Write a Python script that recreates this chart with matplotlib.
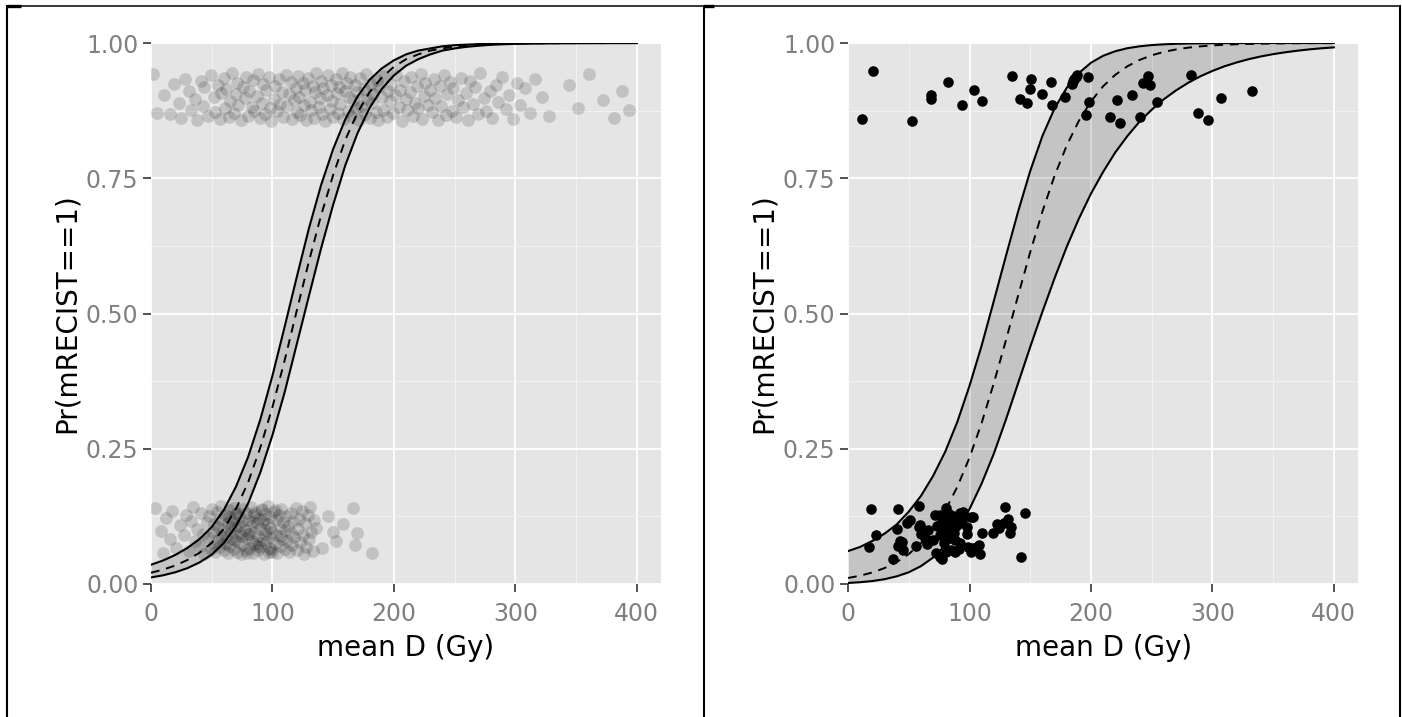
import matplotlib.pyplot as plt
from matplotlib.lines import Line2D

# dose grid for the fitted curves (Gy)
dose_grid = list(range(0, 401, 10))

# left panel: fitted probability and its band
left_fit = [0.0208, 0.0266, 0.0342, 0.0444, 0.0579, 0.0759, 0.102, 0.139, 0.188, 0.252,
            0.327, 0.413, 0.505, 0.596, 0.681, 0.756, 0.821, 0.871, 0.909, 0.936,
            0.956, 0.970, 0.979, 0.986, 0.990, 0.9935, 0.9956, 0.9970, 0.9980, 0.9986,
            0.9991, 0.9994, 0.9996, 0.9997, 0.9998, 0.9999, 0.9999, 0.9999, 1.0, 1.0, 1.0]
left_upper = [0.0356, 0.0435, 0.0537, 0.0666, 0.0832, 0.1053, 0.137, 0.180, 0.235, 0.304,
              0.385, 0.475, 0.567, 0.657, 0.737, 0.804, 0.859, 0.901, 0.932, 0.953,
              0.968, 0.979, 0.986, 0.990, 0.994, 0.996, 0.997, 0.998, 0.9988, 0.9992,
              0.9995, 0.9996, 0.9997, 0.9998, 0.9999, 0.9999, 1.0, 1.0, 1.0, 1.0, 1.0]
left_lower = [0.0121, 0.0161, 0.0217, 0.0293, 0.0399, 0.0542, 0.0759, 0.107, 0.149, 0.206,
              0.275, 0.354, 0.443, 0.532, 0.620, 0.701, 0.774, 0.833, 0.880, 0.915,
              0.940, 0.958, 0.970, 0.979, 0.986, 0.990, 0.993, 0.995, 0.9967, 0.9977,
              0.9984, 0.9989, 0.9992, 0.9995, 0.9996, 0.9997, 0.9998, 0.9998, 0.9999, 0.9999, 0.9999]

# right panel: fitted probability and its band
right_fit = [0.0111, 0.0154, 0.0213, 0.0294, 0.0404, 0.0553, 0.0753, 0.1017, 0.1361, 0.1798,
             0.2336, 0.2978, 0.371, 0.4507, 0.533, 0.6135, 0.6883, 0.7544, 0.8103, 0.856,
             0.892, 0.920, 0.9412, 0.957, 0.9687, 0.9773, 0.9836, 0.9881, 0.9914, 0.9938,
             0.9956, 0.9968, 0.9977, 0.9983, 0.9988, 0.9991, 0.9994, 0.9996, 0.9997, 0.9998, 0.9998]
right_upper = [0.0608, 0.0686, 0.0796, 0.093, 0.110, 0.1338, 0.1627, 0.1997, 0.2445, 0.2999,
               0.3663, 0.4408, 0.523, 0.6064, 0.6883, 0.7635, 0.828, 0.879, 0.917, 0.9444,
               0.9635, 0.9764, 0.9848, 0.9904, 0.9939, 0.9962, 0.9976, 0.9985, 0.9991, 0.9994,
               0.9996, 0.9998, 0.9999, 0.9999, 0.9999, 1.0, 1.0, 1.0, 1.0, 1.0, 1.0]
right_lower = [0.00195, 0.0033, 0.00544, 0.00886, 0.0141, 0.0217, 0.0330, 0.0489, 0.0712, 0.1008,
               0.1385, 0.1857, 0.2408, 0.304, 0.371, 0.4383, 0.503, 0.565, 0.623, 0.675,
               0.7215, 0.7617, 0.7977, 0.828, 0.8547, 0.8767, 0.896, 0.9123, 0.9264, 0.9384,
               0.9484, 0.957, 0.9641, 0.9702, 0.9752, 0.9794, 0.9829, 0.9858, 0.9883, 0.9903, 0.9919]

# left panel: jittered responders (top) and non-responders (bottom)
left_resp_x = [2, 5, 11, 16, 19,
               23, 25, 28, 31, 33, 36, 38, 41, 43, 44, 47, 49, 52, 53, 55, 57, 58, 60,
               61, 62, 64, 65, 67, 68, 70, 71, 72, 74, 76, 77, 78, 80, 81, 83, 84, 85, 87, 88,
               90, 91, 92, 94, 95, 97, 98, 99, 101, 102, 104, 105, 106, 108, 109, 111, 112, 114,
               115, 116, 118, 119,
               120, 121, 122, 123, 125, 126, 127, 128, 129, 131, 132, 133, 134, 135, 136, 138,
               139, 140, 141, 142, 143, 145, 146, 147, 148, 149, 150, 152, 153, 154, 155, 156,
               157, 158, 160, 161, 162, 163, 164, 165, 166, 168, 169, 170, 171, 172, 173, 175,
               176, 177, 178, 180, 181, 182, 183, 185, 186, 187, 188, 190, 191, 192, 194, 195,
               197, 198, 199,
               201, 202, 204, 205, 207, 208, 210, 211, 213, 214, 216, 217, 219, 220, 222, 223,
               225, 226, 228, 230, 231, 233, 234, 236, 238, 239, 241, 243, 244, 246, 248, 249,
               251, 253, 255, 257, 259, 261, 263, 265, 267, 269,
               271, 274, 276, 279, 281, 284, 286, 289, 292, 295, 298, 301, 304, 308, 312, 316,
               322, 328, 344, 352, 361, 372, 381, 388, 394]
left_resp_y = [0.942, 0.871, 0.903, 0.868, 0.925, 0.889, 0.861, 0.934, 0.912, 0.877,
               0.896, 0.857, 0.929, 0.884, 0.918, 0.865, 0.940, 0.901, 0.873, 0.922,
               0.859, 0.908, 0.936, 0.880, 0.915, 0.863, 0.893, 0.944, 0.870, 0.905,
               0.927, 0.886, 0.858, 0.919, 0.899, 0.938, 0.866, 0.911, 0.882, 0.931,
               0.875, 0.902, 0.943, 0.862, 0.890, 0.924, 0.869, 0.913, 0.937, 0.879,
               0.856, 0.897, 0.921, 0.874, 0.933, 0.887, 0.910, 0.864, 0.941, 0.883,
               0.906, 0.928, 0.860, 0.894, 0.917, 0.872, 0.939, 0.900, 0.867, 0.926,
               0.885, 0.914, 0.857, 0.935, 0.891, 0.876, 0.920, 0.862, 0.909, 0.944,
               0.881, 0.898, 0.930, 0.868, 0.916, 0.855, 0.904, 0.940, 0.878, 0.923,
               0.892, 0.863, 0.934, 0.907, 0.871, 0.919, 0.888, 0.945, 0.859, 0.912,
               0.927, 0.874, 0.901, 0.938, 0.866, 0.895, 0.922, 0.880, 0.910, 0.857,
               0.936, 0.884, 0.915, 0.869, 0.942, 0.897, 0.861, 0.925, 0.889, 0.906,
               0.873, 0.931, 0.858, 0.918, 0.900, 0.877, 0.939, 0.864, 0.911, 0.893,
               0.924, 0.870, 0.903, 0.941, 0.882, 0.914, 0.856, 0.929, 0.896, 0.876,
               0.909, 0.937, 0.865, 0.890, 0.920, 0.879, 0.943, 0.860, 0.902, 0.926,
               0.886, 0.913, 0.872, 0.933, 0.899, 0.858, 0.921, 0.883, 0.940, 0.867,
               0.905, 0.928, 0.875, 0.916, 0.863, 0.894, 0.935, 0.881, 0.908, 0.857,
               0.930, 0.887, 0.919, 0.868, 0.944, 0.898, 0.874, 0.912, 0.862, 0.923,
               0.891, 0.938, 0.878, 0.904, 0.859, 0.927, 0.885, 0.917, 0.870, 0.934,
               0.900, 0.866, 0.922, 0.880, 0.942, 0.895, 0.861, 0.911, 0.876]
left_nonresp_x = [3, 8, 10, 12, 16, 17, 21, 24, 27, 29,
                  31, 33, 35, 36, 38, 40, 41, 43, 44, 46, 47, 48, 49,
                  50, 51, 52, 52, 53, 54, 55, 55, 56, 57, 58, 58, 59, 60, 60, 61, 62, 63, 63, 64,
                  65, 65, 66, 67, 68, 68, 69, 70, 70, 71, 72, 72, 73, 74, 74, 75, 76, 76, 77, 78,
                  78, 79, 80, 80, 81, 82, 82, 83, 84, 84, 85, 86, 86, 87, 88, 88, 89, 90, 90, 91,
                  92, 92, 93, 94, 94, 95, 96, 96, 97, 98, 98, 99, 100, 100, 101, 102, 103, 103,
                  104, 105, 106, 106, 107, 108, 109, 110, 110, 111, 112, 113, 114, 115, 115, 116,
                  117, 118, 119, 120, 121, 122, 123, 124, 125, 126, 127, 128, 129, 130, 131, 132,
                  133, 134,
                  62, 66, 71, 75, 79, 83, 87, 91, 95, 99, 64, 69, 73, 81, 85, 89, 93, 97, 102, 107,
                  136, 141, 146, 150, 152, 158, 166, 168, 170, 182]
left_nonresp_y = [0.141, 0.098, 0.057, 0.122, 0.084, 0.135, 0.066, 0.109, 0.090, 0.128,
                  0.061, 0.117, 0.143, 0.079, 0.102, 0.070, 0.131, 0.093, 0.056, 0.114,
                  0.087, 0.125, 0.064, 0.138, 0.096, 0.073, 0.111, 0.059, 0.133, 0.081,
                  0.105, 0.068, 0.120, 0.091, 0.145, 0.076, 0.099, 0.062, 0.127, 0.086,
                  0.113, 0.058, 0.136, 0.094, 0.071, 0.118, 0.083, 0.140, 0.065, 0.103,
                  0.089, 0.130, 0.060, 0.108, 0.077, 0.124, 0.095, 0.055, 0.116, 0.139,
                  0.072, 0.100, 0.132, 0.063, 0.085, 0.119, 0.092, 0.067, 0.142, 0.107,
                  0.080, 0.126, 0.058, 0.097, 0.134, 0.074, 0.112, 0.088, 0.062, 0.121,
                  0.101, 0.069, 0.137, 0.082, 0.115, 0.056, 0.129, 0.093, 0.078, 0.110,
                  0.144, 0.066, 0.104, 0.086, 0.123, 0.060, 0.097, 0.133, 0.075, 0.118,
                  0.090, 0.057, 0.128, 0.106, 0.070, 0.139, 0.083, 0.114, 0.064, 0.099,
                  0.125, 0.079, 0.108, 0.059, 0.131, 0.095, 0.072, 0.117, 0.087, 0.141,
                  0.063, 0.102, 0.121, 0.077, 0.135, 0.091, 0.056, 0.112, 0.068, 0.127,
                  0.084, 0.143, 0.096, 0.061, 0.119, 0.074, 0.105, 0.132, 0.088, 0.058,
                  0.115, 0.071, 0.138, 0.100, 0.065, 0.124, 0.082, 0.109, 0.093, 0.130,
                  0.076, 0.120, 0.060, 0.136, 0.089, 0.103, 0.067, 0.126, 0.097, 0.080,
                  0.111, 0.140, 0.073, 0.094, 0.057]

# right panel: jittered responders (top) and non-responders (bottom)
right_resp_x = [11.5, 20.4, 52.8, 67.9, 68.6, 81.9, 94.1, 104.0, 110.0, 135.3,
                141.2, 147.2, 149.7, 150.9, 160.0, 167.0, 167.7, 178.4, 184.4, 186.2,
                188.8, 197.2, 198.0, 196.2, 216.0, 221.2, 223.8, 234.1, 240.3, 242.9,
                246.6, 248.5, 254.7, 282.3, 288.2, 296.7, 307.4, 332.8, 185.0, 188.0]
right_resp_y = [0.860, 0.949, 0.855, 0.896, 0.904, 0.928, 0.885, 0.914, 0.893, 0.939,
                0.896, 0.890, 0.915, 0.934, 0.906, 0.928, 0.885, 0.901, 0.924, 0.934,
                0.941, 0.937, 0.891, 0.867, 0.863, 0.895, 0.853, 0.904, 0.863, 0.926,
                0.939, 0.922, 0.891, 0.940, 0.870, 0.858, 0.898, 0.912, 0.930, 0.938]
right_nonresp_x = [18.6, 23.0, 17.5, 40.8, 58.6, 51.2, 48.7, 40.2, 58.7, 59.8,
                   42.5, 41.4, 45.0, 37.2, 56.3, 65.0, 70.0, 72.5, 77.7, 85.0,
                   71.3, 80.7, 81.2, 77.1, 82.0, 85.0, 80.5, 87.5, 76.0, 92.2,
                   95.0, 101.5, 97.7, 97.7, 92.2, 99.0, 103.2, 108.0, 108.6, 110.0,
                   119.6, 123.0, 131.5, 129.0, 133.5, 146.0, 142.0, 88.0, 90.0, 86.0,
                   73.0, 66.0, 84.0, 91.0, 101.0, 79.0, 94.0, 63.0, 75.7, 81.0,
                   88.0, 103.0, 106.0, 124.0, 128.0, 134.0, 76.0, 79.0, 83.0,
                   86.0, 89.0, 78.0, 84.0, 92.0, 44.0, 59.0, 66.0]
right_nonresp_y = [0.139, 0.090, 0.069, 0.139, 0.144, 0.118, 0.112, 0.101, 0.106, 0.092,
                   0.079, 0.071, 0.063, 0.047, 0.071, 0.074, 0.082, 0.058, 0.047, 0.062,
                   0.127, 0.141, 0.124, 0.112, 0.112, 0.103, 0.096, 0.094, 0.090, 0.131,
                   0.133, 0.123, 0.106, 0.092, 0.075, 0.069, 0.066, 0.072, 0.056, 0.095,
                   0.094, 0.111, 0.120, 0.143, 0.095, 0.131, 0.049, 0.060, 0.115, 0.125,
                   0.108, 0.100, 0.085, 0.065, 0.060, 0.075, 0.118, 0.085, 0.050, 0.060,
                   0.081, 0.124, 0.068, 0.103, 0.113, 0.105, 0.128, 0.120, 0.130,
                   0.117, 0.108, 0.104, 0.098, 0.112, 0.078, 0.109, 0.078]

x_ticks = [0, 100, 200, 300, 400]
y_ticks = [0.0, 0.25, 0.5, 0.75, 1.0]
y_tick_labels = ['0.00', '0.25', '0.50', '0.75', '1.00']


def style_panel(ax):
    ax.set_facecolor('#e5e5e5')
    ax.set_xlim(0, 420)
    ax.set_ylim(0, 1)
    ax.set_xticks(x_ticks)
    ax.set_yticks(y_ticks)
    ax.set_yticklabels(y_tick_labels)
    ax.set_xticks([50, 150, 250, 350], minor=True)
    ax.set_yticks([0.125, 0.375, 0.625, 0.875], minor=True)
    ax.grid(which='major', color='white', lw=1.3)
    ax.grid(which='minor', color='#f2f2f2', lw=0.7)
    ax.set_axisbelow(True)
    for s in ax.spines.values():
        s.set_visible(False)
    ax.tick_params(which='minor', length=0)
    ax.tick_params(which='major', length=6, width=1.3, color='#444444',
                   labelcolor='#808080', labelsize=17)
    ax.tick_params(axis='x', pad=7)
    ax.tick_params(axis='y', pad=3)
    ax.set_xlabel('mean D (Gy)', fontsize=20, labelpad=6)
    ax.set_ylabel('Pr(mRECIST==1)', fontsize=20, labelpad=4)


def draw_fit(ax, fit, upper, lower):
    ax.fill_between(dose_grid, lower, upper, color='black', alpha=0.14, lw=0, zorder=3)
    ax.plot(dose_grid, upper, color='black', lw=1.5, zorder=4)
    ax.plot(dose_grid, lower, color='black', lw=1.5, zorder=4)
    ax.plot(dose_grid, fit, color='black', lw=1.4, dashes=(4.5, 3.5), zorder=4)


fig = plt.figure(figsize=(14.02, 7.17), dpi=100)
ax1 = fig.add_axes([0.1077, 0.1855, 0.3638, 0.7545])
ax2 = fig.add_axes([0.6049, 0.1855, 0.3638, 0.7545])

for ax in (ax1, ax2):
    style_panel(ax)

ax1.scatter(left_resp_x, left_resp_y, s=85, color='black', alpha=0.15, lw=0, zorder=2)
ax1.scatter(left_nonresp_x, left_nonresp_y, s=85, color='black', alpha=0.15, lw=0, zorder=2)
draw_fit(ax1, left_fit, left_upper, left_lower)

draw_fit(ax2, right_fit, right_upper, right_lower)
ax2.scatter(right_resp_x, right_resp_y, s=58, color='black', lw=0, zorder=5)
ax2.scatter(right_nonresp_x, right_nonresp_y, s=58, color='black', lw=0, zorder=5)

# table-cell borders around the two panels
W, H = 1402, 717
def border(x0, y0, x1, y1, lw):
    fig.add_artist(Line2D([x0 / W, x1 / W], [1 - y0 / H, 1 - y1 / H],
                          transform=fig.transFigure, color='black', lw=lw,
                          solid_capstyle='butt'))

border(6, 5.5, 1401, 5.5, 1.1)
border(7, 5, 7, 717, 1.5)
border(703.5, 5, 703.5, 717, 1.5)
border(1399.5, 5, 1399.5, 717, 1.5)
border(7, 6, 21, 6, 2.4)
border(703.5, 6, 714, 6, 2.4)

fig.savefig('out.png', dpi=100, facecolor='white')
